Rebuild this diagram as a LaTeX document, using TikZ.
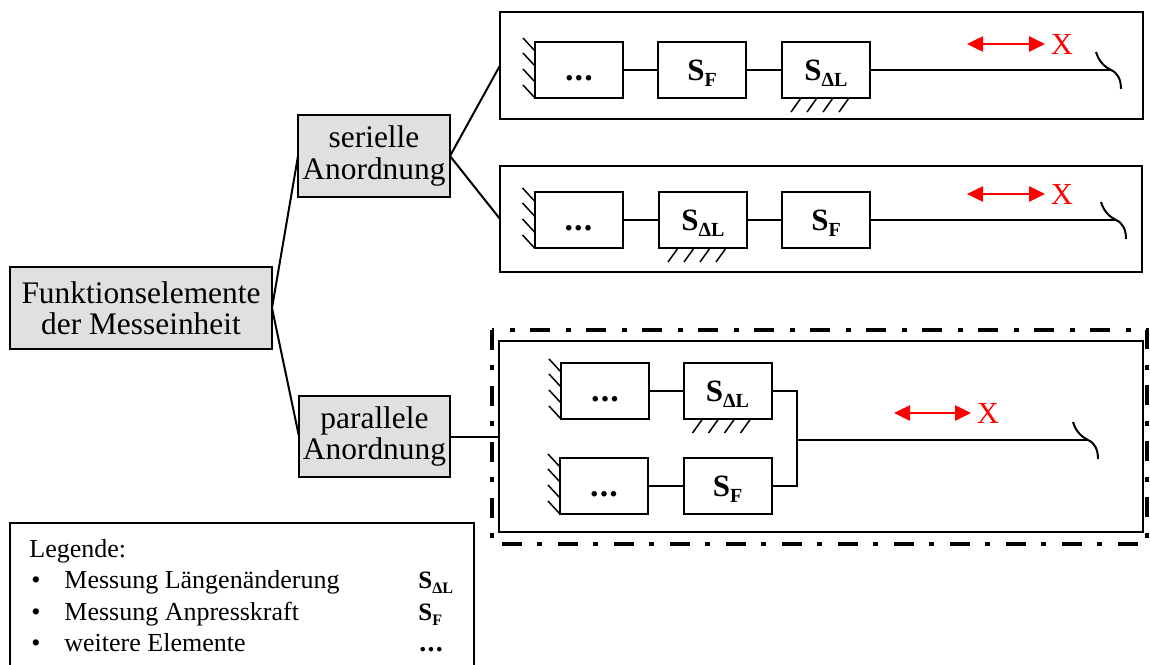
\documentclass[tikz,border=0pt]{standalone}
\usepackage{fontspec}
\setmainfont{Liberation Serif}
\usetikzlibrary{arrows.meta,calc}
% sensor symbols with lowered subscripts: #1 subscript size, #2 drop
\newcommand\symDL[2]{S\raisebox{-#2}{\fontsize{#1}{#1}\selectfont ΔL}}
\newcommand\symF[2]{S\raisebox{-#2}{\fontsize{#1}{#1}\selectfont F}}
% "further elements" mark: three spaced bold dots
\newcommand\moredots[1]{{\fontsize{#1}{#1}\selectfont\bfseries .\kern0.6pt.\kern0.6pt.}}
\begin{document}
\begin{tikzpicture}[x=0.5pt,y=-0.5pt,
  tree/.style={draw,line width=1pt,fill=black!12,align=center,inner sep=0pt,outer sep=0pt,
    font=\fontsize{15.7}{15.7}\selectfont},
  panel/.style={draw,line width=1pt,inner sep=0pt,outer sep=0pt},
  elem/.style={draw,line width=1pt,minimum width=44pt,minimum height=28pt,inner sep=0pt,outer sep=0pt,
    font=\fontsize{15.5}{15.5}\selectfont\bfseries,text height=12.6pt,text depth=2.5pt},
  link/.style={line width=1pt},
  wire/.style={line width=0.75pt},
  hatch/.style={line width=0.75pt},
  brk/.style={line width=1pt},
  motion/.style={red,line width=1.3pt,{Triangle[length=8pt,width=7.5pt]}-{Triangle[length=8pt,width=7.5pt]}},
  xlabel/.style={red,font=\fontsize{15.3}{15.3}\selectfont,inner sep=0pt},
  legtext/.style={anchor=base west,inner sep=0pt,font=\fontsize{13}{13}\selectfont},
  legsym/.style={anchor=base west,inner sep=0pt,font=\fontsize{12.5}{12.5}\selectfont\bfseries}
]
\useasboundingbox (0,0) rectangle (1150,664);

% ---- tree ----
\node[tree,minimum width=131pt,minimum height=41pt] (root) at (141,308) {Funktionselemente\\der Messeinheit};
\node[tree,minimum width=76pt,minimum height=41pt] (ser) at (374,156) {serielle\\Anordnung};
\node[tree,minimum width=75.5pt,minimum height=40.5pt] (par) at (374.5,436.5) {parallele\\Anordnung};

% ---- panels ----
\node[panel,minimum width=321.5pt,minimum height=53.5pt] (pan1) at (821.5,65.5) {};
\node[panel,minimum width=321pt,minimum height=53pt] (pan2) at (821,219) {};
\node[panel,minimum width=322pt,minimum height=95.5pt] (pan3) at (821,436.5) {};
\draw[line width=2.4pt,dash pattern=on 10pt off 7.5pt on 2.5pt off 8pt] (492,330) rectangle (1147,544);

\draw[link] (root.east) -- (ser.west);
\draw[link] (root.east) -- (par.west);
\draw[link] (ser.east) -- (pan1.west);
\draw[link] (ser.east) -- (pan2.west);
\draw[link] (par.east) -- (pan3.west);

% ---- panel 1: serial, force sensor first ----
\node[elem] (p1a) at (579,70) {\moredots{17}};
\node[elem] (p1b) at (702,70) {\symF{10pt}{3pt}};
\node[elem] (p1c) at (826,70) {\symDL{10pt}{3pt}};
\coordinate (e1) at (1111,70);

% ---- panel 2: serial, length sensor first ----
\node[elem] (p2a) at (578.5,220) {\moredots{17}};
\node[elem] (p2b) at (703,220) {\symDL{10pt}{3pt}};
\node[elem] (p2c) at (826,220) {\symF{10pt}{3pt}};
\coordinate (e2) at (1116,220);

% ---- panel 3: parallel ----
\node[elem] (p3a) at (605,391) {\moredots{17}};
\node[elem] (p3b) at (727.5,391) {\symDL{10pt}{3pt}};
\node[elem] (p3c) at (604,486) {\moredots{17}};
\node[elem] (p3d) at (727.5,486) {\symF{10pt}{3pt}};
\coordinate (j3) at (797,440);
\coordinate (e3) at (1088,440);

% wires
\draw[wire] (p1a.east) -- (p1b.west) (p1b.east) -- (p1c.west) (p1c.east) -- (e1);
\draw[wire] (p2a.east) -- (p2b.west) (p2b.east) -- (p2c.west) (p2c.east) -- (e2);
\draw[wire] (p3a.east) -- (p3b.west) (p3c.east) -- (p3d.west);
\draw[wire] (p3b.east) -| (j3) |- (p3d.east);
\draw[wire] (j3) -- (e3);

% free ends
\foreach \e in {e1,e2,e3}
  \draw[brk] ($(\e)+(-15,-18)$) .. controls ($(\e)+(-12,-8)$) and ($(\e)+(-6,-3)$) .. (\e)
             .. controls ($(\e)+(7,3)$) and ($(\e)+(10,10)$) .. ($(\e)+(10,19)$);

% fixed walls on the left of the first elements
\foreach \b in {p1a,p2a,p3a,p3c}
  \foreach \k in {9,24,40,56}
    \draw[hatch] ($(\b.north west)+(0,\k)$) -- ++(-12,-13);

% ground under the length sensors
\foreach \b in {p1c,p2b,p3b}
  \foreach \k in {19,35,51,67}
    \draw[hatch] ($(\b.south west)+(\k,0)$) -- ++(-10,14);

% motion arrows
\coordinate (m1l) at (967,44);  \coordinate (m1r) at (1045,44);
\coordinate (m2l) at (967,194); \coordinate (m2r) at (1045,194);
\coordinate (m3l) at (894,413); \coordinate (m3r) at (971,413);
\draw[motion] (m1l) -- (m1r);
\draw[motion] (m2l) -- (m2r);
\draw[motion] (m3l) -- (m3r);
\node[xlabel] (x1) at (1062,44) {X};
\node[xlabel] (x2) at (1062,194) {X};
\node[xlabel] (x3) at (988,413) {X};

% ---- legend ----
\draw[line width=1pt] (10,670) -- (10,523) -- (474,523) -- (474,670);
\node[legtext] (lt) at (29,557) {Legende:};
\node[legtext] (b1) at (31,588) {•};
\node[legtext] (b2) at (31,620) {•};
\node[legtext] (b3) at (31,651) {•};
\node[legtext] (l1) at (64,588) {Messung Längenänderung};
\node[legtext] (l2) at (64,620) {Messung Anpresskraft};
\node[legtext] (l3) at (64,651) {weitere Elemente};
\node[legsym] (s1) at (418,588) {\symDL{8pt}{2.5pt}};
\node[legsym] (s2) at (418,620) {\symF{8pt}{2.5pt}};
\node[legsym] (s3) at (419,651) {\moredots{14}};
\end{tikzpicture}
\end{document}
